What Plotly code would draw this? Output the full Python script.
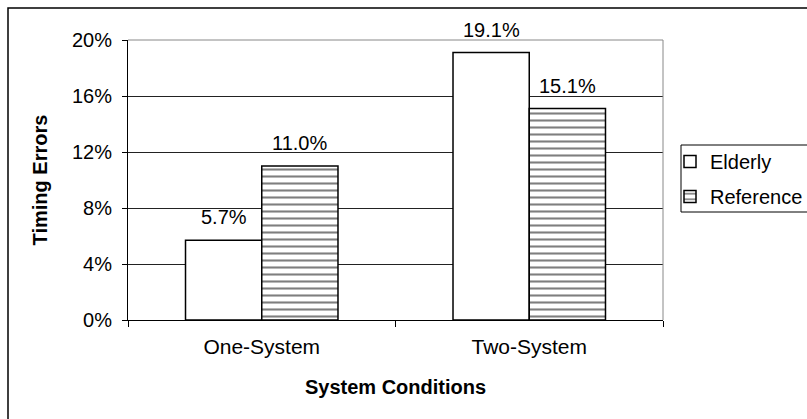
import plotly.graph_objects as go

categories = ["One-System", "Two-System"]
elderly = [5.7, 19.1]
reference = [11.0, 15.1]
series_names = ["Elderly", "Reference"]

W, H = 807, 419
L, R, T, B = 128, 663, 40, 320

FONT = "Liberation Sans, Arial, sans-serif"
BARGAP = 0.43

fig = go.Figure()
fig.add_trace(go.Bar(
    x=categories, y=elderly, name=series_names[0], legendgroup="a",
    marker=dict(color="white", line=dict(color="black", width=1.5)),
))
fig.add_trace(go.Bar(
    x=categories, y=reference, name=series_names[1], legendgroup="b",
    marker=dict(color="white", line=dict(color="black", width=1.5),
                pattern=dict(shape="-", fgcolor="black", bgcolor="white", size=7, solidity=0.3)),
))

pw = R - L
ph = B - T
def px(x):
    return (x - L) / pw
def py(y):
    return (B - y) / ph

# value labels above bars (offset of each bar inside its group)
half = (1 - BARGAP) / 4
annotations = []
for i, (e, r) in enumerate(zip(elderly, reference)):
    for off, v in ((-half, e), (half, r)):
        annotations.append(dict(x=i + off, y=v, xref="x", yref="y", text=f"{v:.1f}%",
                                showarrow=False, yanchor="bottom", yshift=10,
                                font=dict(family=FONT, size=20, color="black")))

fig.update_layout(
    width=W, height=H,
    margin=dict(l=L, r=W - R, t=T, b=H - B, autoexpand=False),
    paper_bgcolor="white", plot_bgcolor="white",
    barmode="group", bargap=BARGAP, bargroupgap=0,
    font=dict(family=FONT, size=20, color="black"),
    showlegend=True,
    legend=dict(x=px(670), y=py(142), xanchor="left", yanchor="top",
                borderwidth=0, bgcolor="rgba(0,0,0,0)",
                font=dict(family=FONT, size=20, color="black"),
                itemwidth=30, tracegroupgap=6),
    annotations=annotations,
    xaxis=dict(
        showline=True, linecolor="black", linewidth=1,
        ticks="outside", tickson="boundaries", ticklen=6, tickcolor="black",
        ticklabelstandoff=8,
        tickfont=dict(family=FONT, size=21, color="black"),
        title=dict(text="<b>System Conditions</b>", font=dict(family=FONT, size=20, color="black"), standoff=22),
    ),
    yaxis=dict(
        range=[0, 20], dtick=4, ticksuffix="%",
        showline=True, linecolor="black", linewidth=1,
        ticks="outside", ticklen=5, tickcolor="black",
        ticklabelstandoff=6,
        showgrid=True, gridcolor="#222", gridwidth=1,
        tickfont=dict(family=FONT, size=20, color="black"),
        title=dict(text="<b>Timing Errors</b>", font=dict(family=FONT, size=20, color="black"), standoff=18),
        zeroline=False,
    ),
    shapes=[
        dict(type="rect", xref="paper", yref="paper",
             x0=px(8), x1=px(830), y0=py(440), y1=py(8),
             line=dict(color="black", width=1.5), fillcolor="rgba(0,0,0,0)", layer="below"),
        dict(type="rect", xref="paper", yref="paper",
             x0=px(681), x1=px(830), y0=py(212), y1=py(145),
             line=dict(color="black", width=1), fillcolor="rgba(0,0,0,0)", layer="below"),
        dict(type="line", xref="paper", yref="paper", x0=1, x1=1, y0=0, y1=1,
             line=dict(color="#888", width=1)),
        dict(type="line", xref="paper", yref="paper", x0=0, x1=1, y0=1, y1=1,
             line=dict(color="#888", width=1)),
    ],
)

fig.write_html("out.html", config={"displayModeBar": False},
               post_script="document.body.style.margin='0';")
